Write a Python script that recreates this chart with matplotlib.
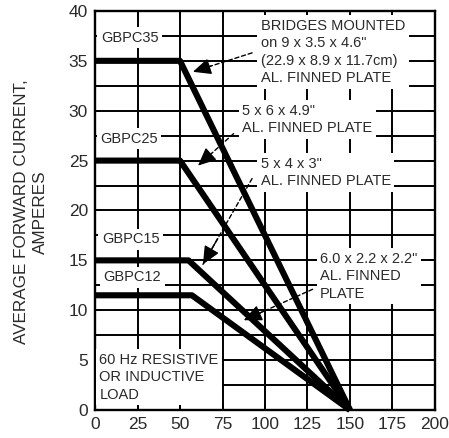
import matplotlib
matplotlib.use('Agg')
import matplotlib.pyplot as plt
from matplotlib.ticker import MultipleLocator

plt.rcParams['font.family'] = ['Liberation Sans', 'DejaVu Sans']

# ---- data ----
x_ticks = [0, 25, 50, 75, 100, 125, 150, 175, 200]
y_ticks = [0, 5, 10, 15, 20, 25, 30, 35, 40]

gbpc35_x = [0, 50, 150]
gbpc35_y = [35, 35, 0]
gbpc25_x = [0, 50, 150]
gbpc25_y = [25, 25, 0]
gbpc15_x = [0, 55, 150]
gbpc15_y = [15, 15, 0]
gbpc12_x = [0, 57, 150]
gbpc12_y = [11.5, 11.5, 0]

series_labels = ['GBPC35', 'GBPC25', 'GBPC15', 'GBPC12']
label_pos = [(3.5, 37.3), (3.0, 27.2), (4.0, 17.1), (5.0, 13.3)]

notes = [
    'BRIDGES MOUNTED\non 9 x 3.5 x 4.6"\n(22.9 x 8.9 x 11.7cm)\nAL. FINNED PLATE',
    '5 x 6 x 4.9"\nAL. FINNED PLATE',
    '5 x 4 x 3"\nAL. FINNED PLATE',
    '6.0 x 2.2 x 2.2"\nAL. FINNED\nPLATE',
]
note_pos = [(97.5, 35.9), (86.5, 29.1), (97.5, 23.8), (132.5, 13.4)]
# arrow: (start of dashed leader, tip on curve)
arrow_start = [(92.4, 35.8), (81.5, 27.7), (92.4, 23.2), (128.0, 12.1)]
arrow_tip = [(57.6, 33.9), (60.6, 24.5), (63.5, 14.6), (87.5, 9.0)]

load_note = '60 Hz RESISTIVE\nOR INDUCTIVE\nLOAD'

TXT = '#2a2a2a'

fig = plt.figure(figsize=(4.49, 4.38), dpi=100)
ax = fig.add_axes([0.2116, 0.0639, 0.7572, 0.9111])
ax.set_xlim(0, 200)
ax.set_ylim(0, 40)
ax.set_xticks(x_ticks)
ax.set_yticks(y_ticks)
ax.yaxis.set_minor_locator(MultipleLocator(2.5))
ax.tick_params(which='major', direction='in', length=4, width=1.3, top=True, right=True,
               labelsize=12.5, labelcolor=TXT, pad=5)
ax.tick_params(which='minor', length=0)
ax.set_axisbelow(True)
ax.grid(True, which='major', axis='x', color='black', lw=1.4)
ax.grid(True, which='both', axis='y', color='black', lw=1.4)
for s in ax.spines.values():
    s.set_linewidth(1.7)

for xs, ys in [(gbpc35_x, gbpc35_y), (gbpc25_x, gbpc25_y), (gbpc15_x, gbpc15_y), (gbpc12_x, gbpc12_y)]:
    ax.plot(xs, ys, color='black', lw=4.4, zorder=5, solid_joinstyle='round', solid_capstyle='butt',
            clip_on=False)

box = dict(facecolor='white', edgecolor='none', pad=2.5)
for lab, (x, y) in zip(series_labels, label_pos):
    ax.text(x, y, lab, fontsize=10.5, color=TXT, ha='left', va='center', bbox=box, zorder=3)

for txt, (x, y) in zip(notes, note_pos):
    ax.text(x, y, txt, fontsize=10.5, color=TXT, ha='left', va='center', bbox=box, zorder=3,
            linespacing=1.32)

ax.text(2.5, 3.3, load_note, fontsize=10.5, color=TXT, ha='left', va='center', bbox=box, zorder=3,
        linespacing=1.32)

for (sx, sy), (tx, ty) in zip(arrow_start, arrow_tip):
    ax.annotate('', xy=(tx, ty), xytext=(sx, sy),
                arrowprops=dict(arrowstyle='-', linestyle=(0, (3, 2)), color='black', lw=1.0,
                                shrinkA=0, shrinkB=0), zorder=6)
    # solid head
    fx = tx + (sx - tx) * 0.3
    fy = ty + (sy - ty) * 0.3
    ax.annotate('', xy=(tx, ty), xytext=(fx, fy),
                arrowprops=dict(arrowstyle='-|>,head_length=1.1,head_width=0.5', color='black',
                                lw=1.0, shrinkA=0, shrinkB=0), zorder=6)

fig.text(0.069, 0.516, 'AVERAGE FORWARD CURRENT,\nAMPERES', rotation=90, ha='center', va='center',
         fontsize=12.3, color=TXT, linespacing=1.25)

fig.savefig('out.png', dpi=100)
